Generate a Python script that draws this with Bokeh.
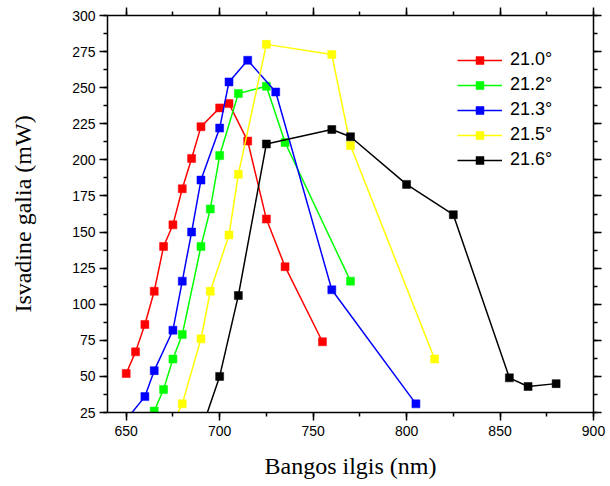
from bokeh.plotting import figure
from bokeh.models import LinearAxis, SingleIntervalTicker, Range1d, Legend, LegendItem, CustomJSTickFormatter
from bokeh.embed import file_html
from bokeh.resources import INLINE

# ---- data ----
wl_210 = [650, 655, 660, 665, 670, 675, 680, 685, 690, 700, 705, 715, 725, 735, 755]
p_210 = [52, 67, 86, 109, 140, 155, 180, 201, 223, 236, 239, 213, 159, 126, 74]

wl_212 = [665, 670, 675, 680, 690, 695, 700, 710, 725, 735, 770]
p_212 = [26, 41, 62, 79, 140, 166, 203, 246, 251, 212, 116]

wl_213 = [650, 660, 665, 675, 680, 685, 690, 700, 705, 715, 730, 760, 805]
p_213 = [20, 36, 54, 82, 116, 150, 186, 222, 254, 269, 247, 110, 31]

wl_215 = [675, 680, 690, 695, 705, 710, 725, 760, 770, 815]
p_215 = [18, 31, 76, 109, 148, 190, 280, 273, 210, 62]

wl_216 = [690, 700, 710, 725, 760, 770, 800, 825, 855, 865, 880]
p_216 = [12, 50, 106, 211, 221, 216, 183, 162, 49, 43, 45]

series_labels = ["21.0°", "21.2°", "21.3°", "21.5°", "21.6°"]
series_colors = ["#FF0000", "#00FF00", "#0000FF", "#FFFF00", "#000000"]
series = [(wl_210, p_210), (wl_212, p_212), (wl_213, p_213), (wl_215, p_215), (wl_216, p_216)]

x_title = "Bangos ilgis (nm)"
y_title = "Isvadine galia (mW)"

p = figure(width=610, height=486, x_range=Range1d(640, 900), y_range=Range1d(25, 300),
           output_backend="svg", toolbar_location=None,
           min_border_left=107, min_border_right=17, min_border_top=15, min_border_bottom=74)
p.grid.visible = False
p.outline_line_color = None
p.background_fill_color = "white"

xt = SingleIntervalTicker(interval=50, num_minor_ticks=2)
yt = SingleIntervalTicker(interval=25, num_minor_ticks=2)

blank = CustomJSTickFormatter(code="return '';")

p.xaxis[0].ticker = xt
p.yaxis[0].ticker = yt
p.add_layout(LinearAxis(ticker=xt, formatter=blank), "above")
p.add_layout(LinearAxis(ticker=yt, formatter=blank), "right")

for ax in p.xaxis + p.yaxis:
    ax.axis_line_width = 1.5
    ax.axis_line_color = "black"
    ax.major_tick_line_width = 1.5
    ax.minor_tick_line_width = 1.5
    ax.major_tick_line_color = "black"
    ax.minor_tick_line_color = "black"
    ax.major_tick_in = 0
    ax.major_tick_out = 8
    ax.minor_tick_in = 0
    ax.minor_tick_out = 4
    ax.major_label_text_font = "Liberation Sans"
    ax.major_label_text_font_size = "14px"
    ax.major_label_text_color = "black"

for ax in (p.above[0], p.right[0]):
    ax.major_label_standoff = 0
    ax.axis_label = None

xa = p.below[0]
ya = p.left[0]
xa.axis_label = x_title
ya.axis_label = y_title
for ax in (xa, ya):
    ax.axis_label_text_font = "Liberation Serif"
    ax.axis_label_text_font_size = "24px"
    ax.axis_label_text_font_style = "normal"
    ax.axis_label_text_color = "black"
xa.major_label_standoff = 5
ya.major_label_standoff = 4
xa.axis_label_standoff = 14
ya.axis_label_standoff = 33

items = []
for (xs, ys), lab, col in zip(series, series_labels, series_colors):
    r1 = p.line(xs, ys, line_color=col, line_width=1.5)
    r2 = p.scatter(xs, ys, marker="square", size=8, fill_color=col, line_color=col, line_width=0.5)
    items.append(LegendItem(label=lab, renderers=[r1, r2]))

legend = Legend(items=items, location=(350, 242))
legend.border_line_color = None
legend.background_fill_alpha = 0
legend.label_text_font = "Liberation Sans"
legend.label_text_font_size = "18px"
legend.label_text_color = "black"
legend.glyph_width = 45
legend.glyph_height = 20
legend.label_height = 20
legend.label_standoff = 8
legend.spacing = 4
legend.padding = 10
legend.margin = 0
p.add_layout(legend, "center")

open("out.html", "w").write(file_html(p, INLINE))
